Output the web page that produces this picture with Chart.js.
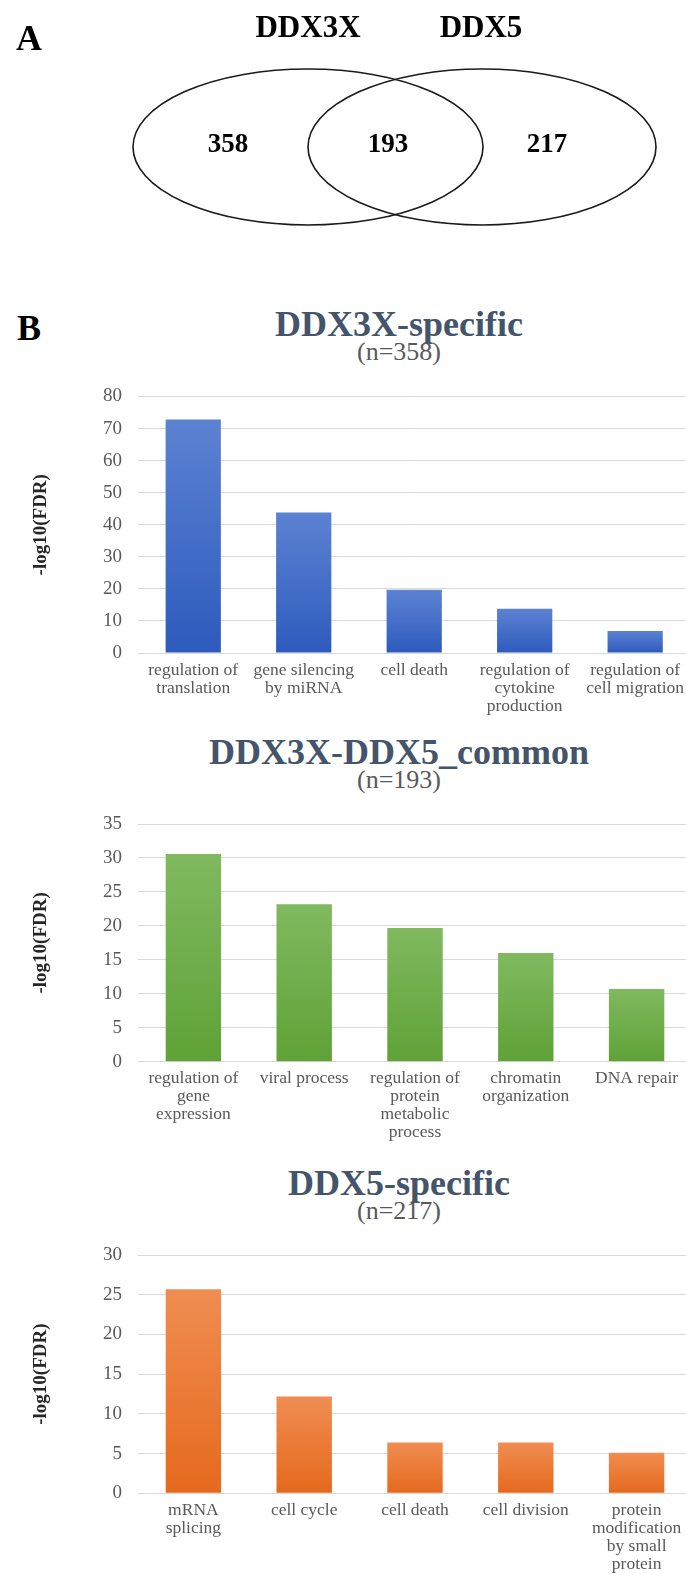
<!DOCTYPE html>
<html>
<head>
<meta charset="utf-8">
<script src="https://cdn.jsdelivr.net/npm/chart.js@4.4.1/dist/chart.umd.min.js"></script>
<style>
  html, body { margin: 0; padding: 0; background: #fff; width: 686px; height: 1574px; overflow: hidden; }
  .abs { position: absolute; }
  .panel { font: bold 36px/36px 'Liberation Serif', 'Times New Roman', serif; color: #000; }
  .ttl { left: 0; width: 798px; text-align: center; font: bold 36px/40px 'Liberation Serif', 'Times New Roman', serif; color: #44546a; white-space: nowrap; }
  .sub { left: 0; width: 798px; text-align: center; font: 26px/28px 'Liberation Serif', 'Times New Roman', serif; color: #595959; white-space: nowrap; }
  canvas { position: absolute; left: 0; }
</style>
</head>
<body>
<canvas id="venn" width="686" height="280" style="top:0"></canvas>
<canvas id="c1" width="692" height="360" style="top:366px"></canvas>
<canvas id="c2" width="692" height="360" style="top:794px"></canvas>
<canvas id="c3" width="692" height="349" style="top:1225px"></canvas>

<div class="abs panel" style="left:16px;top:20px">A</div>
<div class="abs panel" style="left:17px;top:310px">B</div>

<div id="t1" class="abs ttl" style="top:304px"></div>
<div id="s1" class="abs sub" style="top:338px"></div>
<div id="t2" class="abs ttl" style="top:732px"></div>
<div id="s2" class="abs sub" style="top:766px"></div>
<div id="t3" class="abs ttl" style="top:1163px"></div>
<div id="s3" class="abs sub" style="top:1197px"></div>

<script>
// ---- Venn diagram: gene sets and region counts ----
const vennSets = ['DDX3X', 'DDX5'];
const vennCounts = [358, 193, 217];   // DDX3X only, shared, DDX5 only

// ---- GO enrichment, DDX3X-specific genes ----
const specificTitle = 'DDX3X-specific';
const specificCategories = [
  ['regulation of', 'translation'],
  ['gene silencing', 'by miRNA'],
  'cell death',
  ['regulation of', 'cytokine', 'production'],
  ['regulation of', 'cell migration']
];
const specificValues = [72.8, 43.8, 19.7, 13.8, 6.9];
const specificTicks = [0, 10, 20, 30, 40, 50, 60, 70, 80];

// ---- GO enrichment, shared genes ----
const commonTitle = 'DDX3X-DDX5_common';
const commonCategories = [
  ['regulation of', 'gene', 'expression'],
  'viral process',
  ['regulation of', 'protein', 'metabolic', 'process'],
  ['chromatin', 'organization'],
  'DNA repair'
];
const commonValues = [30.6, 23.2, 19.7, 16.0, 10.7];
const commonTicks = [0, 5, 10, 15, 20, 25, 30, 35];

// ---- GO enrichment, DDX5-specific genes ----
const ddx5Title = 'DDX5-specific';
const ddx5Categories = [
  ['mRNA', 'splicing'],
  'cell cycle',
  'cell death',
  'cell division',
  ['protein', 'modification', 'by small', 'protein']
];
const ddx5Values = [25.7, 12.2, 6.4, 6.4, 5.1];
const ddx5Ticks = [0, 5, 10, 15, 20, 25, 30];

const axisTitle = '-log10(FDR)';

const SERIF = "'Liberation Serif', 'Times New Roman', serif";
Chart.defaults.font.family = SERIF;
Chart.defaults.devicePixelRatio = 1;

// headings above each bar chart
[[specificTitle, vennCounts[0]], [commonTitle, vennCounts[1]], [ddx5Title, vennCounts[2]]]
  .forEach(([t, n], i) => {
    document.getElementById('t' + (i + 1)).textContent = t;
    document.getElementById('s' + (i + 1)).textContent = '(n=' + n + ')';
  });

// ---- Venn: two overlapping ellipses drawn on the chart's own scales ----
const vennPlugin = {
  id: 'venn',
  afterDraw(chart, args, opts) {
    const { ctx } = chart;
    const sx = chart.scales.x, sy = chart.scales.y;
    ctx.save();
    ctx.strokeStyle = '#1a1a1a';
    ctx.lineWidth = 1.6;
    opts.ellipses.forEach(e => {
      const cx = sx.getPixelForValue(e.cx), cy = sy.getPixelForValue(e.cy);
      const rx = Math.abs(sx.getPixelForValue(e.cx + e.rx) - cx);
      const ry = Math.abs(sy.getPixelForValue(e.cy + e.ry) - cy);
      ctx.beginPath();
      ctx.ellipse(cx, cy, rx, ry, 0, 0, Math.PI * 2);
      ctx.stroke();
    });
    ctx.fillStyle = '#000';
    ctx.textAlign = 'center';
    ctx.textBaseline = 'alphabetic';
    ctx.font = 'bold 31px ' + SERIF;
    vennSets.forEach((name, i) => {
      const p = opts.setLabels[i];
      ctx.fillText(name, sx.getPixelForValue(p.x), sy.getPixelForValue(p.y));
    });
    ctx.font = 'bold 27px ' + SERIF;
    vennCounts.forEach((n, i) => {
      const p = opts.countLabels[i];
      ctx.fillText(String(n), sx.getPixelForValue(p.x), sy.getPixelForValue(p.y));
    });
    ctx.restore();
  }
};

new Chart(document.getElementById('venn'), {
  type: 'scatter',
  data: { datasets: [] },
  options: {
    responsive: false,
    animation: false,
    layout: { padding: 0 },
    plugins: {
      legend: { display: false },
      tooltip: { enabled: false },
      venn: {
        ellipses: [
          { cx: 308, cy: 147, rx: 175, ry: 78 },
          { cx: 482, cy: 147, rx: 174, ry: 78 }
        ],
        setLabels: [{ x: 308, y: 37 }, { x: 481, y: 37 }],
        countLabels: [{ x: 228, y: 152 }, { x: 388, y: 152 }, { x: 547, y: 152 }]
      }
    },
    scales: {
      x: { type: 'linear', min: 0, max: 686, display: false },
      y: { type: 'linear', min: 0, max: 280, reverse: true, display: false }
    }
  },
  plugins: [vennPlugin]
});

// ---- bar charts ----
function barGradient(topColor, bottomColor) {
  return function (ctx) {
    const chart = ctx.chart;
    const y = chart.scales && chart.scales.y;
    if (!y || ctx.type !== 'data') return topColor;
    const y0 = y.getPixelForValue(0);
    const y1 = y.getPixelForValue(ctx.raw);
    if (!isFinite(y0) || !isFinite(y1) || y0 === y1) return topColor;
    const g = chart.ctx.createLinearGradient(0, y1, 0, y0);
    g.addColorStop(0, topColor);
    g.addColorStop(1, bottomColor);
    return g;
  };
}

function makeBarChart(id, categories, values, ticks, colors, topPad, axisHeight) {
  const step = ticks[1] - ticks[0];
  new Chart(document.getElementById(id), {
    type: 'bar',
    data: {
      labels: categories,
      datasets: [{
        data: values,
        backgroundColor: barGradient(colors[0], colors[1]),
        borderWidth: 0,
        barPercentage: 0.5,
        categoryPercentage: 1.0
      }]
    },
    options: {
      responsive: false,
      animation: false,
      layout: { padding: { top: topPad, left: 0, right: 0, bottom: 0 } },
      plugins: { legend: { display: false }, tooltip: { enabled: false } },
      scales: {
        x: {
          grid: { display: false, drawTicks: false },
          border: { display: false },
          ticks: {
            color: '#595959',
            font: { size: 17.5, lineHeight: '18px' },
            padding: 8,
            maxRotation: 0,
            minRotation: 0,
            autoSkip: false
          },
          afterFit(s) { s.height = axisHeight; }
        },
        y: {
          min: ticks[0],
          max: ticks[ticks.length - 1],
          grid: { color: '#d9d9d9', lineWidth: 1, drawTicks: false },
          border: { display: false },
          ticks: {
            stepSize: step,
            color: '#595959',
            font: { size: 19 },
            padding: 16
          },
          title: {
            display: true,
            text: axisTitle,
            color: '#262626',
            font: { size: 19, weight: 'bold' },
            padding: { top: 30, bottom: 0 }
          },
          afterFit(s) { s.width = 138; }
        }
      }
    }
  });
}

makeBarChart('c1', specificCategories, specificValues, specificTicks, ['#5c82d2', '#2d5bbd'], 30.5, 73);
makeBarChart('c2', commonCategories, commonValues, commonTicks, ['#80b95f', '#5fa237'], 30, 92.3);
makeBarChart('c3', ddx5Categories, ddx5Values, ddx5Ticks, ['#f08d52', '#e5691d'], 30, 80.7);
</script>
</body>
</html>
